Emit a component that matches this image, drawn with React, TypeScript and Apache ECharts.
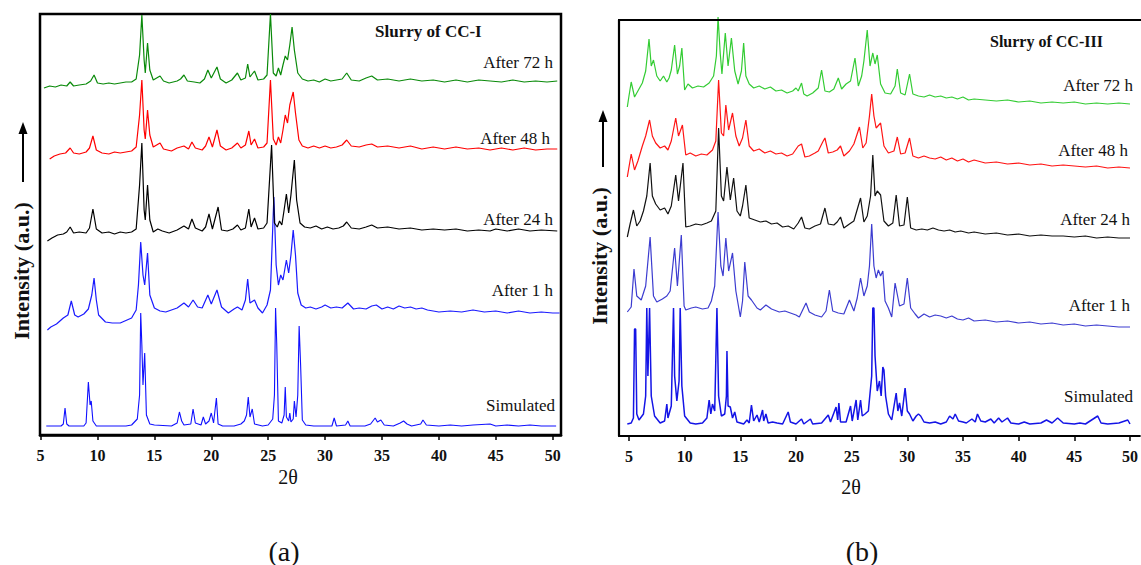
import React, { useEffect, useRef } from "react";
import * as echarts from "echarts";

const tickValues = [5, 10, 15, 20, 25, 30, 35, 40, 45, 50];

// ---------- Panel (a): Slurry of CC-I ----------
const a72h: number[][] = [
  [5.3, 347], [5.8, 349], [6.3, 348], [6.8, 350], [7.3, 349], [7.6, 353], [7.9, 349], [8.4, 350], [9.0, 351], [9.4, 354],
  [9.7, 360], [10.0, 352], [10.5, 351], [11.0, 352], [11.5, 351], [12.0, 352], [12.5, 353], [13.0, 353], [13.4, 356], [13.7, 380],
  [13.9, 420], [14.1, 375], [14.2, 362], [14.4, 392], [14.6, 365], [14.9, 355], [15.2, 357], [15.5, 359], [15.8, 354], [16.3, 352],
  [17.0, 354], [17.3, 356], [17.6, 360], [17.9, 354], [18.5, 353], [19.0, 352], [19.4, 356], [19.7, 365], [20.0, 357], [20.5, 368],
  [20.8, 356], [21.3, 352], [21.8, 355], [22.3, 362], [22.6, 355], [23.0, 357], [23.2, 371], [23.4, 358], [23.8, 364], [24.1, 355],
  [24.6, 356], [24.9, 360], [25.2, 421], [25.45, 362], [25.7, 359], [25.9, 367], [26.1, 360], [26.3, 370], [26.5, 379], [26.7, 375],
  [26.9, 390], [27.1, 408], [27.3, 385], [27.6, 362], [28.0, 356], [28.5, 354], [29.0, 355], [29.5, 353], [30.0, 356], [30.5, 354],
  [31.0, 355], [31.5, 356], [31.9, 362], [32.3, 355], [33.0, 354], [33.6, 357], [34.1, 359], [34.6, 355], [35.5, 356], [36.5, 354],
  [37.5, 356], [38.5, 354], [39.5, 355], [40.5, 353], [41.5, 355], [42.5, 353], [43.5, 355], [44.5, 354], [45.5, 353], [46.5, 355],
  [47.5, 353], [48.5, 354], [49.5, 353], [50.4, 354],
];

const a48h: number[][] = [
  [5.8, 276], [6.2, 279], [6.7, 281], [7.2, 282], [7.6, 287], [7.9, 282], [8.4, 281], [9.0, 283], [9.3, 287], [9.6, 299],
  [9.9, 285], [10.4, 282], [11.0, 281], [11.5, 283], [12.0, 282], [12.5, 283], [13.0, 284], [13.4, 288], [13.7, 320], [13.9, 355],
  [14.1, 305], [14.2, 296], [14.4, 325], [14.6, 300], [14.9, 288], [15.2, 290], [15.5, 292], [15.8, 286], [16.5, 284], [17.0, 287],
  [17.6, 289], [18.0, 286], [18.3, 293], [18.6, 287], [19.2, 285], [19.5, 289], [19.8, 298], [20.1, 288], [20.5, 305], [20.8, 289],
  [21.3, 285], [21.8, 287], [22.3, 292], [22.6, 287], [23.0, 290], [23.3, 304], [23.5, 290], [23.8, 296], [24.1, 287], [24.6, 288],
  [24.9, 292], [25.2, 355], [25.45, 296], [25.7, 290], [25.9, 298], [26.1, 292], [26.3, 305], [26.5, 320], [26.7, 312], [26.9, 330],
  [27.2, 343], [27.4, 322], [27.7, 295], [28.0, 289], [28.5, 287], [29.0, 289], [29.5, 287], [30.0, 289], [30.5, 287], [31.0, 288],
  [31.5, 290], [31.9, 295], [32.3, 289], [33.0, 288], [33.6, 290], [34.1, 291], [34.6, 288], [35.5, 289], [36.5, 287], [37.5, 289],
  [38.5, 286], [39.5, 288], [40.5, 286], [41.5, 288], [42.5, 286], [43.5, 287], [44.5, 285], [45.5, 287], [46.5, 285], [47.5, 287],
  [48.5, 285], [49.5, 286], [50.4, 286],
];

const a24h: number[][] = [
  [5.6, 194], [6.0, 197], [6.5, 200], [7.0, 201], [7.3, 203], [7.6, 208], [7.9, 202], [8.4, 203], [9.0, 202], [9.3, 207],
  [9.6, 226], [9.9, 206], [10.4, 202], [11.0, 203], [11.5, 201], [12.0, 203], [12.5, 202], [13.0, 203], [13.4, 206], [13.7, 250],
  [13.9, 292], [14.1, 225], [14.2, 215], [14.4, 250], [14.6, 215], [14.9, 203], [15.3, 206], [15.7, 204], [16.3, 202], [17.0, 205],
  [17.6, 209], [18.0, 206], [18.3, 216], [18.6, 207], [19.2, 204], [19.5, 208], [19.8, 221], [20.1, 206], [20.6, 228], [20.9, 205],
  [21.4, 204], [21.9, 206], [22.3, 210], [22.6, 205], [23.0, 207], [23.3, 226], [23.5, 208], [23.8, 217], [24.1, 206], [24.6, 207],
  [24.9, 212], [25.3, 290], [25.55, 212], [25.8, 208], [26.0, 214], [26.2, 210], [26.4, 225], [26.6, 241], [26.8, 222], [27.0, 240],
  [27.3, 275], [27.5, 235], [27.8, 212], [28.2, 208], [28.7, 207], [29.2, 209], [29.7, 206], [30.2, 208], [30.7, 206], [31.2, 207],
  [31.6, 209], [31.9, 213], [32.3, 207], [33.0, 206], [33.6, 208], [34.1, 210], [34.6, 207], [35.5, 208], [36.5, 206], [37.5, 207],
  [38.5, 205], [39.5, 206], [40.5, 205], [41.5, 206], [42.5, 204], [43.5, 205], [44.5, 204], [45.0, 206], [46.0, 204], [47.0, 206],
  [48.0, 204], [49.0, 205], [50.4, 204],
];

const a1h: number[][] = [
  [5.6, 105], [5.9, 108], [6.4, 111], [7.0, 117], [7.4, 120], [7.7, 134], [8.0, 120], [8.3, 118], [8.8, 121], [9.2, 126],
  [9.5, 140], [9.7, 157], [9.9, 135], [10.1, 120], [10.7, 113], [11.3, 112], [12.0, 112], [12.6, 115], [13.0, 117], [13.4, 125],
  [13.6, 150], [13.8, 193], [14.0, 160], [14.15, 150], [14.4, 182], [14.6, 140], [15.0, 127], [15.5, 124], [16.0, 123], [16.5, 125],
  [17.0, 127], [17.6, 132], [18.0, 128], [18.4, 135], [18.8, 128], [19.2, 127], [19.7, 140], [20.0, 131], [20.5, 145], [20.9, 128],
  [21.5, 122], [22.0, 126], [22.3, 128], [22.7, 125], [23.0, 135], [23.2, 156], [23.4, 132], [23.8, 135], [24.1, 127], [24.5, 122],
  [24.9, 130], [25.2, 145], [25.5, 238], [25.7, 170], [25.9, 150], [26.1, 160], [26.3, 155], [26.6, 175], [26.8, 162], [27.0, 180],
  [27.2, 205], [27.4, 180], [27.6, 142], [27.9, 130], [28.3, 127], [28.7, 128], [29.2, 126], [29.7, 128], [30.0, 130], [30.5, 127],
  [31.0, 128], [31.5, 127], [32.0, 132], [32.5, 126], [33.0, 127], [33.6, 126], [34.1, 129], [34.5, 130], [35.0, 126], [35.5, 128],
  [36.0, 126], [36.5, 129], [37.0, 127], [37.5, 128], [38.0, 126], [38.5, 127], [39.0, 125], [40.0, 123], [41.0, 124], [42.0, 123],
  [43.0, 125], [44.0, 123], [45.0, 124], [46.0, 122], [47.0, 124], [48.0, 122], [49.0, 123], [50.0, 122], [50.6, 122],
];

const aSimulated: number[][] = [
  [5.5, 9], [6.8, 9], [7.0, 11], [7.15, 27], [7.3, 11], [7.5, 9], [8.8, 9], [9.0, 12], [9.2, 53], [9.35, 30],
  [9.45, 34], [9.6, 14], [9.9, 9], [12.5, 9], [13.0, 10], [13.5, 16], [13.7, 40], [13.8, 122], [13.9, 90], [14.0, 50],
  [14.15, 82], [14.3, 20], [14.6, 11], [15.0, 10], [16.5, 9], [17.0, 12], [17.2, 23], [17.4, 14], [17.6, 10], [18.2, 11],
  [18.4, 26], [18.6, 12], [19.1, 10], [19.3, 18], [19.5, 11], [19.8, 14], [20.0, 22], [20.2, 12], [20.45, 37], [20.6, 11],
  [21.0, 9], [22.0, 9], [22.6, 11], [22.9, 14], [23.1, 20], [23.25, 38], [23.4, 18], [23.6, 26], [23.8, 11], [24.5, 9],
  [25.0, 10], [25.4, 16], [25.55, 40], [25.65, 127], [25.75, 92], [25.9, 14], [26.2, 12], [26.4, 20], [26.5, 48], [26.6, 18],
  [26.8, 14], [26.9, 22], [27.0, 13], [27.2, 16], [27.3, 34], [27.45, 18], [27.6, 40], [27.72, 109], [27.85, 70], [28.0, 15],
  [28.3, 10], [29.0, 9], [30.6, 9], [30.8, 17], [31.0, 9], [31.8, 10], [32.0, 14], [32.2, 9], [33.5, 9], [34.0, 11],
  [34.4, 17], [34.6, 13], [34.9, 15], [35.2, 10], [36.0, 9], [36.6, 12], [36.9, 14], [37.2, 11], [37.6, 9], [38.4, 11],
  [38.6, 15], [38.9, 10], [40.0, 9], [41.0, 10], [42.0, 9], [43.0, 10], [44.5, 11], [45.0, 9], [46.0, 10], [47.0, 9],
  [48.0, 10], [49.0, 9], [50.3, 9],
];

// ---------- Panel (b): Slurry of CC-III ----------
const b72h: number[][] = [
  [4.85, 329], [5.0, 340], [5.2, 354], [5.5, 339], [5.8, 345], [6.2, 353], [6.5, 365], [6.8, 397], [7.0, 370], [7.2, 376],
  [7.5, 360], [7.8, 355], [8.1, 360], [8.4, 354], [8.6, 358], [8.8, 366], [9.1, 391], [9.35, 362], [9.55, 370], [9.75, 388],
  [10.0, 346], [10.3, 352], [10.7, 348], [11.2, 350], [11.7, 349], [12.2, 353], [12.6, 360], [12.85, 380], [13.0, 419], [13.2, 382],
  [13.35, 362], [13.65, 403], [13.9, 370], [14.2, 398], [14.5, 365], [14.8, 352], [15.1, 365], [15.3, 393], [15.5, 360], [15.8, 352],
  [16.2, 348], [16.7, 350], [17.2, 347], [17.7, 349], [18.2, 345], [18.7, 346], [19.2, 343], [19.7, 345], [20.0, 348], [20.2, 345],
  [20.5, 353], [20.7, 342], [21.0, 340], [21.5, 343], [22.0, 348], [22.3, 366], [22.6, 345], [23.0, 344], [23.4, 347], [23.8, 358],
  [24.1, 347], [24.5, 352], [24.9, 355], [25.3, 378], [25.6, 350], [25.9, 360], [26.1, 375], [26.4, 406], [26.65, 370], [26.9, 383],
  [27.1, 372], [27.3, 381], [27.6, 352], [28.0, 343], [28.5, 342], [28.9, 350], [29.1, 367], [29.4, 343], [29.8, 341], [30.2, 362],
  [30.5, 342], [31.0, 340], [31.5, 339], [32.0, 341], [32.5, 339], [33.0, 340], [33.5, 338], [34.0, 339], [34.5, 337], [35.0, 339],
  [35.5, 336], [36.0, 337], [37.0, 336], [38.0, 335], [39.0, 336], [40.0, 334], [41.0, 335], [42.0, 333], [43.0, 334], [44.0, 333],
  [45.0, 334], [46.0, 332], [47.0, 333], [48.0, 332], [49.0, 333], [50.0, 332],
];

const b48h: number[][] = [
  [4.85, 259], [5.2, 282], [5.5, 266], [5.8, 275], [6.2, 290], [6.5, 300], [6.85, 316], [7.1, 300], [7.4, 293], [7.8, 288],
  [8.2, 290], [8.5, 286], [8.8, 295], [9.2, 318], [9.45, 300], [9.8, 311], [10.1, 281], [10.5, 283], [11.0, 280], [11.5, 282],
  [12.0, 281], [12.5, 286], [12.8, 295], [13.05, 356], [13.3, 303], [13.5, 300], [13.7, 331], [13.95, 306], [14.3, 323], [14.6, 300],
  [14.9, 290], [15.2, 298], [15.5, 316], [15.8, 290], [16.2, 285], [16.7, 287], [17.2, 283], [17.7, 285], [18.2, 282], [18.7, 283],
  [19.2, 280], [19.7, 282], [20.2, 290], [20.5, 292], [20.8, 279], [21.2, 280], [21.7, 283], [22.0, 285], [22.4, 294], [22.6, 298],
  [22.9, 283], [23.3, 284], [23.7, 286], [24.0, 290], [24.3, 280], [24.8, 285], [25.2, 292], [25.7, 309], [26.0, 288], [26.3, 293],
  [26.6, 320], [26.8, 342], [27.0, 320], [27.2, 308], [27.6, 313], [27.9, 290], [28.3, 283], [28.8, 285], [29.1, 299], [29.4, 282],
  [29.8, 283], [30.2, 298], [30.5, 280], [31.0, 278], [31.5, 280], [32.0, 278], [32.5, 277], [33.0, 279], [33.5, 276], [34.0, 278],
  [34.5, 275], [35.0, 277], [35.5, 274], [36.0, 276], [37.0, 273], [38.0, 274], [39.0, 272], [40.0, 273], [41.0, 271], [42.0, 272],
  [43.0, 270], [44.0, 271], [45.0, 270], [46.0, 269], [47.0, 270], [48.0, 268], [49.0, 269], [50.0, 268],
];

const b24h: number[][] = [
  [4.85, 199], [5.1, 212], [5.4, 226], [5.7, 210], [6.0, 215], [6.3, 225], [6.6, 240], [6.9, 273], [7.1, 240], [7.4, 232],
  [7.8, 226], [8.2, 228], [8.5, 222], [8.8, 230], [9.2, 261], [9.45, 235], [9.85, 273], [10.1, 209], [10.5, 210], [11.0, 212],
  [11.5, 211], [12.0, 213], [12.4, 215], [12.8, 225], [13.05, 308], [13.3, 240], [13.5, 235], [13.8, 269], [14.1, 236], [14.4, 258],
  [14.7, 225], [15.0, 220], [15.2, 230], [15.5, 251], [15.8, 218], [16.3, 216], [16.8, 214], [17.3, 215], [17.8, 212], [18.3, 213],
  [18.8, 209], [19.3, 210], [19.8, 207], [20.2, 213], [20.5, 219], [20.8, 208], [21.2, 207], [21.7, 210], [22.2, 212], [22.6, 228],
  [22.9, 212], [23.4, 211], [23.7, 214], [24.0, 219], [24.3, 208], [24.8, 212], [25.2, 215], [25.8, 238], [26.1, 214], [26.4, 220],
  [26.7, 240], [26.9, 281], [27.1, 240], [27.3, 245], [27.6, 241], [27.9, 215], [28.3, 210], [28.7, 213], [29.0, 241], [29.3, 210],
  [29.7, 211], [30.0, 239], [30.3, 208], [30.8, 206], [31.3, 207], [31.8, 206], [32.3, 208], [32.8, 206], [33.3, 205], [33.8, 206],
  [34.3, 204], [34.8, 205], [35.5, 203], [36.0, 204], [37.0, 202], [38.0, 203], [39.0, 201], [40.0, 202], [41.0, 200], [42.0, 201],
  [43.0, 200], [44.0, 200], [45.0, 199], [46.0, 200], [47.0, 198], [48.0, 199], [49.0, 198], [50.0, 198],
];

const b1h: number[][] = [
  [4.85, 124], [5.2, 129], [5.45, 167], [5.7, 140], [6.1, 136], [6.5, 150], [6.9, 199], [7.2, 140], [7.5, 134], [8.0, 137],
  [8.4, 140], [8.7, 145], [9.1, 188], [9.35, 150], [9.7, 201], [9.95, 130], [10.1, 126], [10.6, 128], [11.0, 129], [11.6, 127],
  [12.1, 128], [12.4, 135], [12.7, 150], [13.0, 224], [13.25, 170], [13.45, 160], [13.7, 198], [13.95, 165], [14.3, 183], [14.6, 145],
  [15.0, 119], [15.2, 135], [15.4, 174], [15.7, 140], [16.0, 136], [16.5, 128], [16.8, 126], [17.3, 131], [17.8, 127], [18.5, 124],
  [19.0, 125], [19.5, 123], [20.0, 121], [20.3, 119], [20.9, 133], [21.2, 124], [21.7, 121], [22.3, 119], [22.7, 125], [23.0, 146],
  [23.3, 125], [23.8, 123], [24.3, 122], [24.8, 136], [25.2, 125], [25.5, 138], [25.8, 158], [26.1, 140], [26.4, 150], [26.6, 170],
  [26.8, 212], [27.0, 170], [27.2, 158], [27.4, 166], [27.6, 160], [27.8, 165], [28.0, 135], [28.3, 128], [28.6, 119], [28.9, 153],
  [29.3, 130], [29.7, 132], [30.0, 158], [30.3, 128], [30.7, 122], [31.0, 118], [31.5, 122], [32.0, 119], [32.5, 121], [33.0, 120],
  [33.5, 118], [34.0, 120], [34.5, 117], [35.0, 116], [35.5, 118], [36.0, 115], [37.0, 116], [38.0, 114], [39.0, 115], [40.0, 113],
  [41.0, 114], [42.0, 112], [43.0, 113], [44.0, 111], [45.0, 112], [46.0, 110], [47.0, 111], [48.0, 110], [49.0, 109], [50.0, 109],
];

const bSimulated: number[][] = [
  [4.85, 12], [5.2, 13], [5.4, 18], [5.5, 107], [5.6, 107], [5.7, 22], [5.9, 16], [6.3, 22], [6.5, 40], [6.6, 128],
  [6.7, 60], [6.85, 128], [7.0, 40], [7.3, 20], [7.8, 13], [8.2, 15], [8.4, 32], [8.5, 18], [8.8, 30], [9.0, 128],
  [9.1, 60], [9.3, 35], [9.5, 55], [9.6, 128], [9.75, 50], [10.0, 20], [10.5, 13], [11.0, 12], [11.6, 13], [12.0, 18],
  [12.2, 36], [12.35, 22], [12.5, 32], [12.7, 25], [12.9, 128], [13.05, 40], [13.3, 20], [13.6, 22], [13.75, 40], [13.8, 85],
  [13.9, 30], [14.1, 29], [14.3, 18], [14.5, 24], [14.7, 14], [15.3, 12], [15.6, 16], [15.8, 13], [16.0, 31], [16.2, 15],
  [16.5, 21], [16.7, 14], [17.0, 26], [17.1, 15], [17.3, 22], [17.5, 13], [17.9, 14], [18.3, 13], [18.8, 12], [19.3, 24],
  [19.5, 14], [20.0, 12], [20.5, 17], [20.7, 12], [21.3, 17], [21.5, 12], [22.3, 13], [22.9, 21], [23.1, 14], [23.6, 29],
  [23.75, 16], [23.85, 33], [24.0, 14], [24.5, 14], [24.9, 30], [25.05, 15], [25.4, 36], [25.55, 16], [25.8, 36], [25.95, 20],
  [26.2, 22], [26.5, 25], [26.8, 60], [26.9, 128], [27.0, 128], [27.1, 80], [27.3, 45], [27.5, 55], [27.65, 40], [27.8, 69],
  [27.9, 66], [28.05, 40], [28.3, 22], [28.6, 16], [29.0, 43], [29.15, 25], [29.3, 33], [29.5, 20], [29.8, 48], [30.0, 25],
  [30.2, 22], [30.5, 15], [30.8, 20], [31.0, 22], [31.2, 20], [31.5, 14], [32.0, 13], [32.5, 14], [33.0, 12], [33.5, 14],
  [33.8, 20], [34.1, 17], [34.3, 22], [34.6, 15], [35.0, 14], [35.3, 13], [35.8, 17], [36.1, 14], [36.3, 22], [36.6, 15],
  [37.0, 14], [37.5, 17], [37.8, 13], [38.2, 18], [38.5, 14], [39.0, 18], [39.3, 13], [40.0, 12], [40.5, 14], [41.0, 12],
  [42.0, 13], [42.5, 16], [43.0, 13], [43.5, 18], [44.0, 13], [45.0, 12], [45.5, 13], [46.0, 12], [47.1, 20], [47.4, 13],
  [48.0, 12], [49.0, 13], [49.8, 16], [50.0, 12],
];

const SERIF = "'Liberation Serif', 'Times New Roman', serif";

function lineSeries(name: string, data: number[][], color: string, idx: number, width = 1.2) {
  return {
    name,
    type: "line",
    xAxisIndex: idx,
    yAxisIndex: idx,
    data,
    showSymbol: false,
    symbol: "none",
    clip: false,
    lineStyle: { color, width },
    itemStyle: { color },
    z: 3,
  };
}

function txt(text: string, x: number, y: number, size: number, align: string, bold = false, rotation = 0) {
  return {
    type: "text",
    x,
    y,
    rotation,
    z: 10,
    style: {
      text,
      fill: "#111",
      font: `${bold ? "bold " : ""}${size}px ${SERIF}`,
      align,
      textAlign: align,
      verticalAlign: "middle",
      textVerticalAlign: "middle",
    },
  };
}

function arrow(x: number, yTop: number, yBottom: number) {
  return [
    { type: "line", z: 10, shape: { x1: x, y1: yBottom, x2: x, y2: yTop + 8 }, style: { stroke: "#000", lineWidth: 2 } },
    { type: "polygon", z: 10, shape: { points: [[x, yTop], [x - 4.5, yTop + 12], [x + 4.5, yTop + 12]] }, style: { fill: "#000" } },
  ];
}

export default function App() {
  const ref = useRef<HTMLDivElement>(null);
  useEffect(() => {
    document.body.style.margin = "0";
    const chart = echarts.init(ref.current!, null, { renderer: "svg" });
    const xAxisCommon = (gridIndex: number, min: number, max: number, w: number) => ({
      type: "value",
      gridIndex,
      min,
      max,
      splitLine: { show: false },
      axisLine: { show: true, onZero: false, lineStyle: { color: "#000", width: w } },
      axisTick: { show: true, inside: false, length: 5, customValues: tickValues, lineStyle: { color: "#000", width: 1.5 } },
      axisLabel: {
        show: true,
        customValues: tickValues,
        margin: 12,
        color: "#111",
        fontFamily: SERIF,
        fontWeight: "bold",
        fontSize: 16,
      },
    });
    const yAxisCommon = (gridIndex: number, max: number, lineW: number) => ({
      type: "value",
      gridIndex,
      min: 0,
      max,
      show: true,
      axisLine: { show: lineW > 0, onZero: false, lineStyle: { color: "#000", width: lineW } },
      axisTick: { show: false },
      axisLabel: { show: false },
      splitLine: { show: false },
    });
    chart.setOption({
      animation: false,
      backgroundColor: "#fff",
      grid: [
        { left: 40, top: 14, width: 521, height: 421, show: true, borderColor: "#000", borderWidth: 2.5, backgroundColor: "transparent" },
        { left: 619, top: 20, width: 522, height: 416, show: false },
      ],
      xAxis: [xAxisCommon(0, 4.95, 50.73, 2.5), xAxisCommon(1, 4.104, 50.88, 2.2)],
      yAxis: [yAxisCommon(0, 421, 0), yAxisCommon(1, 416, 2.2)],
      series: [
        lineSeries("Simulated (a)", aSimulated, "#1010ff", 0, 1.1),
        lineSeries("After 1 h (a)", a1h, "#1a1aff", 0),
        lineSeries("After 24 h (a)", a24h, "#000000", 0),
        lineSeries("After 48 h (a)", a48h, "#ff0000", 0),
        lineSeries("After 72 h (a)", a72h, "#0a8a0a", 0),
        lineSeries("Simulated (b)", bSimulated, "#1414e6", 1, 1.5),
        lineSeries("After 1 h (b)", b1h, "#3c3cd0", 1),
        lineSeries("After 24 h (b)", b24h, "#111111", 1),
        lineSeries("After 48 h (b)", b48h, "#ff1414", 1),
        lineSeries("After 72 h (b)", b72h, "#33cc33", 1),
      ],
      graphic: [
        txt("Slurry of CC-I", 375, 31, 17, "left", true),
        txt("After 72 h", 553, 62, 17, "right"),
        txt("After 48 h", 550, 138, 17, "right"),
        txt("After 24 h", 553, 219, 17, "right"),
        txt("After 1 h", 553, 290, 17, "right"),
        txt("Simulated", 555, 405, 17, "right"),
        txt("2θ", 288, 477, 20, "center"),
        txt("(a)", 284, 551, 28, "center"),
        txt("Intensity (a.u.)", 21, 271, 22, "center", true, Math.PI / 2),
        ...arrow(23, 122, 182),
        { type: "line", z: 5, shape: { x1: 618, y1: 20, x2: 1141, y2: 20 }, style: { stroke: "#000", lineWidth: 2.2 } },
        txt("Slurry of CC-III", 990, 41, 16, "left", true),
        txt("After 72 h", 1133, 85, 17, "right"),
        txt("After 48 h", 1128, 150, 17, "right"),
        txt("After 24 h", 1130, 219, 17, "right"),
        txt("After 1 h", 1130, 305, 17, "right"),
        txt("Simulated", 1133, 396, 17, "right"),
        txt("2θ", 851, 487, 20, "center"),
        txt("(b)", 862, 551, 28, "center"),
        txt("Intensity (a.u.)", 599, 256, 22, "center", true, Math.PI / 2),
        ...arrow(603, 110, 167),
      ],
    });
    return () => chart.dispose();
  }, []);
  return <div ref={ref} style={{ width: 1141, height: 565 }} />;
}
